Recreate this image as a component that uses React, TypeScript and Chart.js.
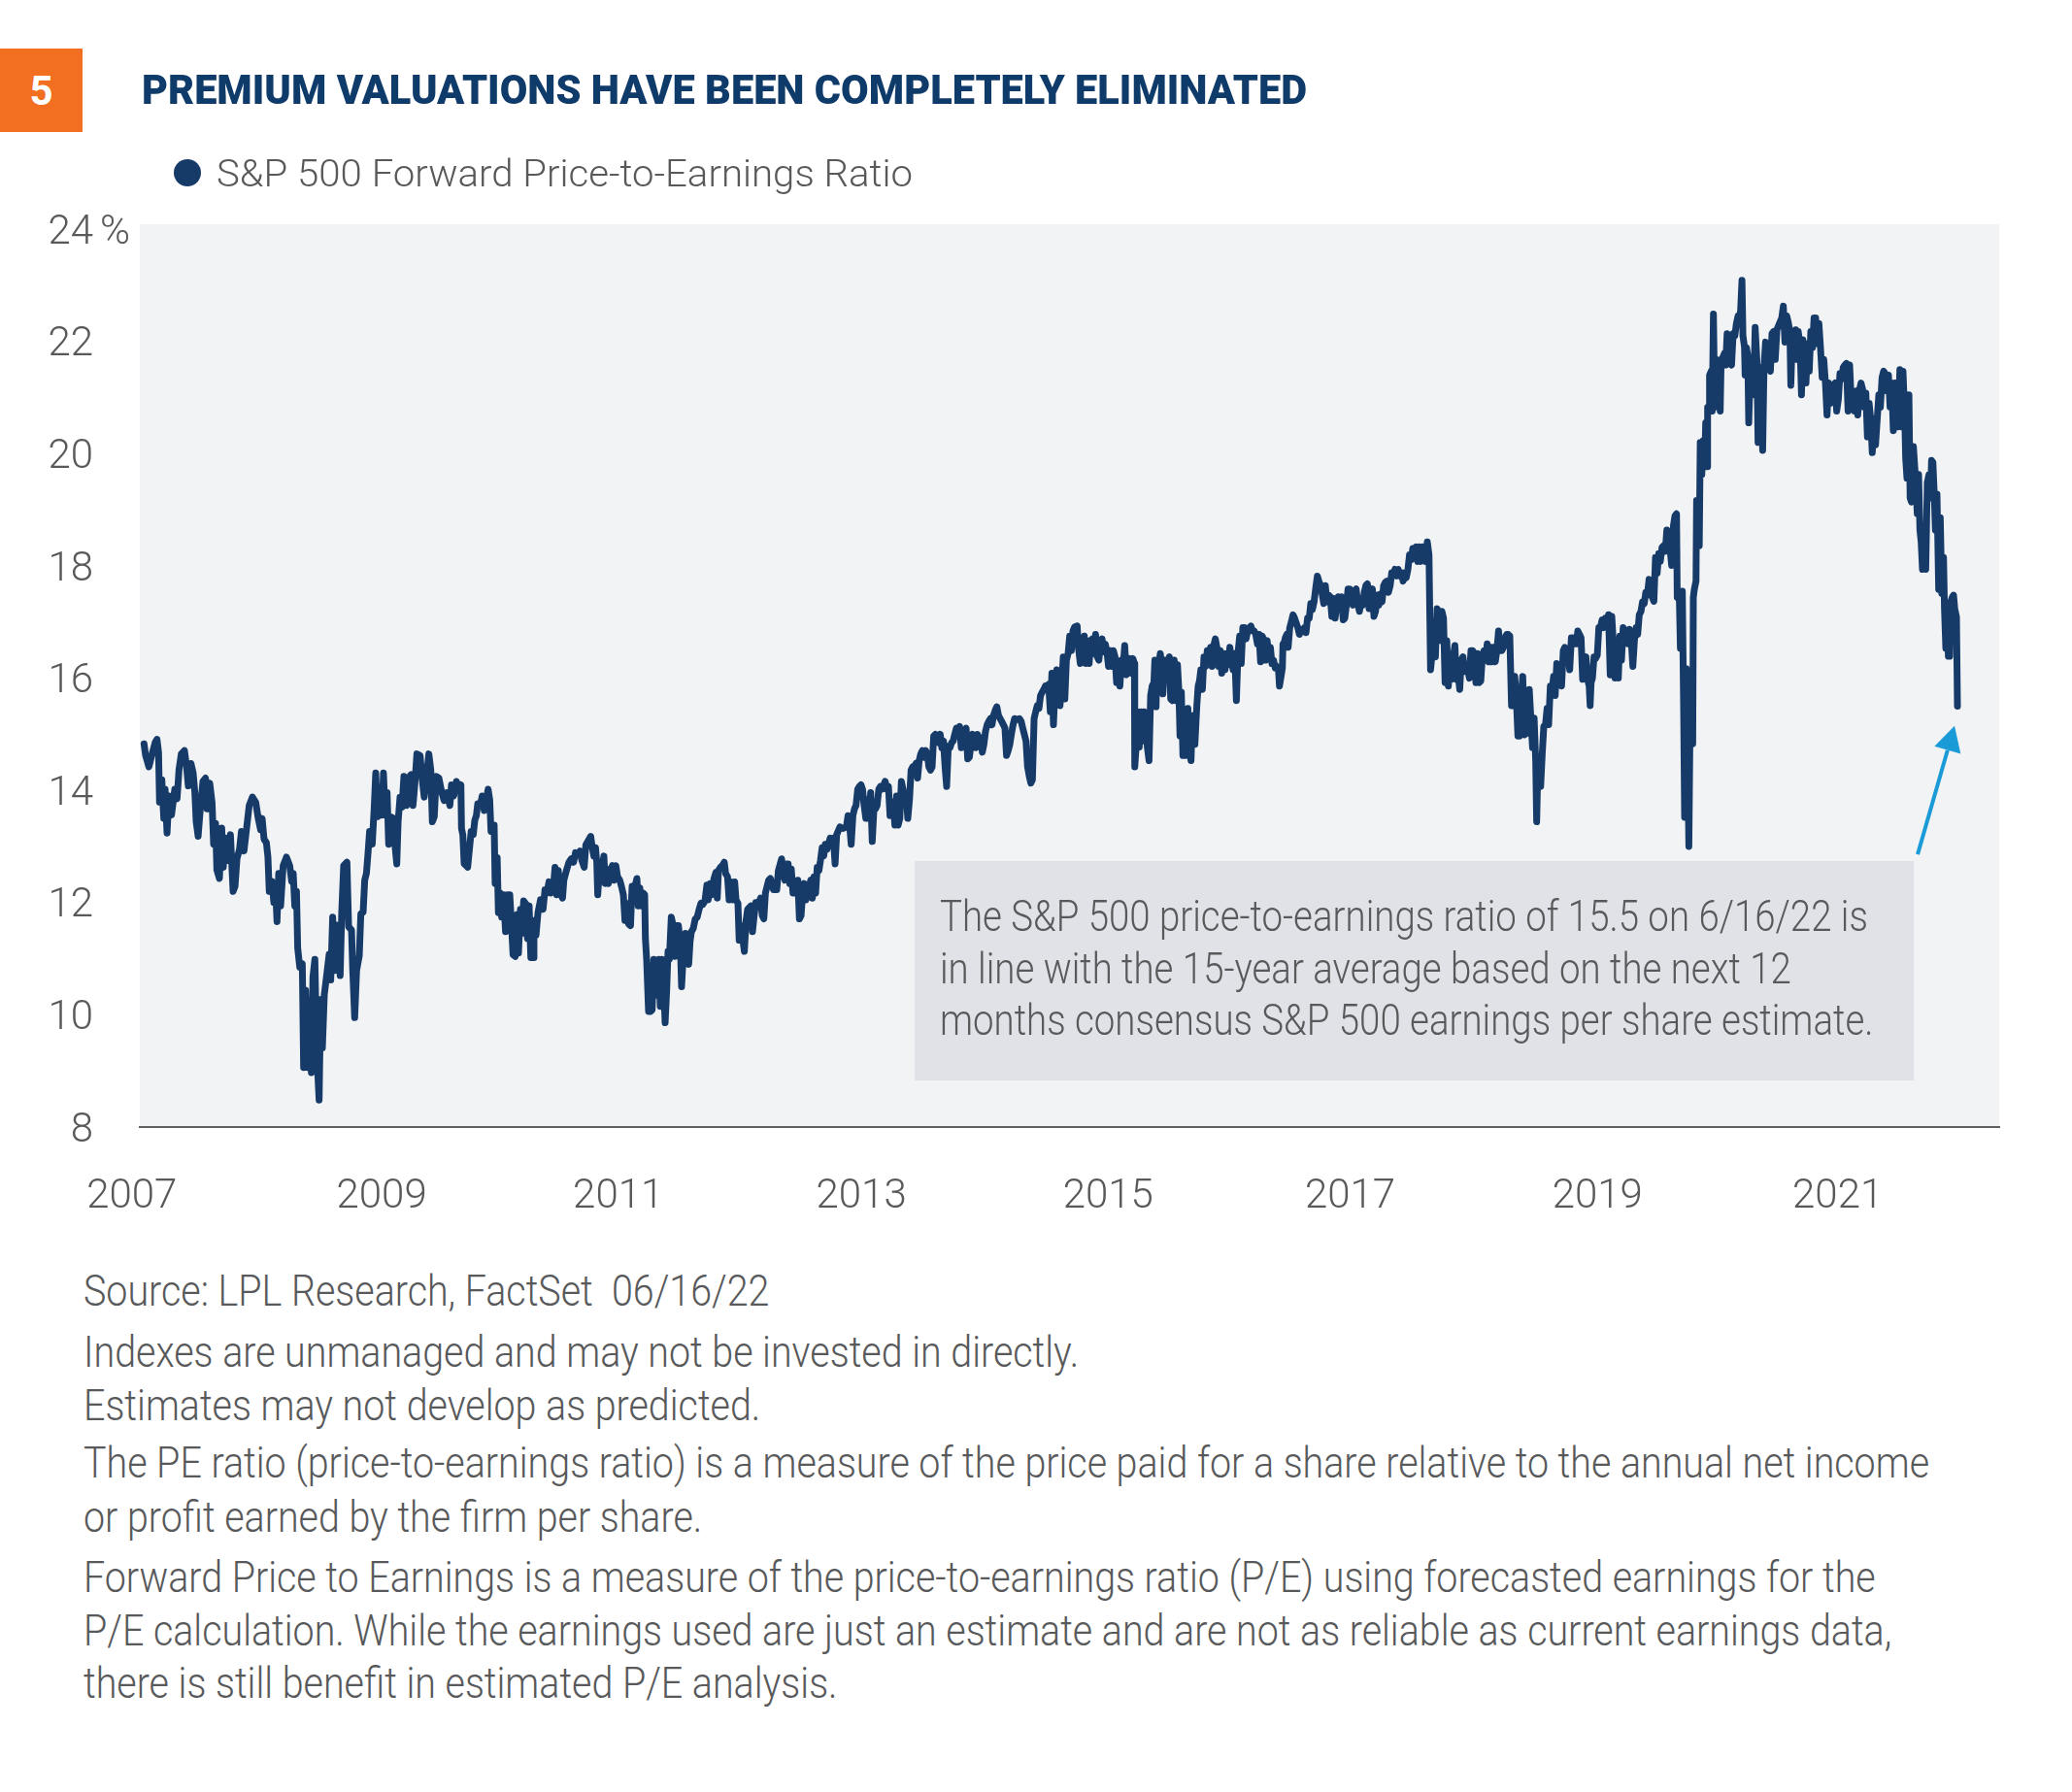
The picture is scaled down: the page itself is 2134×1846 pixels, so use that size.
import React, { useEffect, useLayoutEffect, useRef } from "react";
import { Chart, registerables } from "chart.js";

Chart.register(...registerables);

// ---------- text content ----------
const CHART_NUMBER = "5";
const TITLE = "PREMIUM VALUATIONS HAVE BEEN COMPLETELY ELIMINATED";
const SERIES_LABEL = "S&P 500 Forward Price-to-Earnings Ratio";
const ANNOTATION_LINES = [
  "The S&P 500 price-to-earnings ratio of 15.5 on 6/16/22 is",
  "in line with the 15-year average based on the next 12",
  "months consensus S&P 500 earnings per share estimate.",
];
const FOOTNOTE_LINES = [
  "Source: LPL Research, FactSet  06/16/22",
  "Indexes are unmanaged and may not be invested in directly.",
  "Estimates may not develop as predicted.",
  "The PE ratio (price-to-earnings ratio) is a measure of the price paid for a share relative to the annual net income",
  "or profit earned by the firm per share.",
  "Forward Price to Earnings is a measure of the price-to-earnings ratio (P/E) using forecasted earnings for the",
  "P/E calculation. While the earnings used are just an estimate and are not as reliable as current earnings data,",
  "there is still benefit in estimated P/E analysis.",
];

// ---------- axes ----------
const yTickValues = [8, 10, 12, 14, 16, 18, 20, 22, 24];
const xTickValues = [2007.33, 2009.395, 2011.35, 2013.36, 2015.4, 2017.4, 2019.445, 2021.43];
const xTickLabels = ["2007", "2009", "2011", "2013", "2015", "2017", "2019", "2021"];
const X_MIN = 2007.396;
const X_MAX = 2022.765;
const Y_MIN = 8;
const Y_MAX = 24.09;

// annotation anchored in data units
const annotationBox = { x0: 2013.8, x1: 2022.06, yTop: 12.74, yBottom: 8.83 };
const arrowFrom = { x: 2022.091, y: 12.86 };
const arrowTo = { x: 2022.396, y: 15.15 };

// ---------- series: [decimal year, forward P/E] ----------
const pe2007: [number, number][] = [[2007.431,14.83],[2007.444,14.62],[2007.471,14.42],[2007.498,14.65],[2007.524,14.86],[2007.538,14.91],[2007.551,14.68],[2007.559,13.79],[2007.578,14.19],[2007.594,13.5],[2007.605,14.02],[2007.621,13.24],[2007.637,13.9],[2007.658,13.56],[2007.685,14.02],[2007.704,13.85],[2007.72,14.37],[2007.739,14.65],[2007.765,14.71],[2007.781,14.45],[2007.797,14.08],[2007.819,14.48],[2007.837,14.31],[2007.851,13.96],[2007.862,13.44],[2007.878,13.18],[2007.894,13.62],[2007.918,14.16],[2007.939,14.22],[2007.952,13.67],[2007.974,14.13],[2007.993,13.79]];
const pe2008: [number, number][] = [[2008.006,13.04],[2008.022,13.41],[2008.033,12.58],[2008.054,12.43],[2008.073,13.33],[2008.086,12.63],[2008.102,13.15],[2008.124,12.75],[2008.145,13.21],[2008.167,12.2],[2008.183,12.29],[2008.199,12.78],[2008.22,12.95],[2008.236,13.27],[2008.257,12.92],[2008.279,13.33],[2008.3,13.73],[2008.327,13.88],[2008.354,13.79],[2008.375,13.5],[2008.394,13.3],[2008.407,13.5],[2008.423,13.13],[2008.442,13.07],[2008.455,12.81],[2008.466,12.2],[2008.488,12.38],[2008.504,12.0],[2008.517,12.29],[2008.53,11.66],[2008.544,12.52],[2008.56,11.94],[2008.581,12.66],[2008.608,12.81],[2008.635,12.66],[2008.651,12.38],[2008.664,12.52],[2008.677,11.94],[2008.691,12.2],[2008.701,11.19],[2008.718,10.85],[2008.739,10.91],[2008.75,9.06],[2008.766,10.44],[2008.782,9.06],[2008.798,10.27],[2008.814,8.97],[2008.827,10.67],[2008.843,10.99],[2008.857,9.41],[2008.878,8.48],[2008.891,10.27],[2008.905,9.41],[2008.921,10.36],[2008.942,10.73],[2008.961,11.08],[2008.974,10.62],[2008.99,11.74]];
const pe2009: [number, number][] = [[2009.006,10.79],[2009.022,11.6],[2009.039,11.19],[2009.052,10.7],[2009.065,11.83],[2009.081,12.66],[2009.108,12.72],[2009.122,11.57],[2009.146,11.51],[2009.156,10.79],[2009.172,9.95],[2009.188,10.79],[2009.21,11.05],[2009.223,11.8],[2009.242,11.83],[2009.255,12.4],[2009.269,12.52],[2009.282,12.87],[2009.295,13.27],[2009.317,13.04],[2009.333,13.67],[2009.346,14.31],[2009.36,13.53],[2009.376,13.96],[2009.397,13.56],[2009.41,14.31],[2009.424,13.56],[2009.44,13.96],[2009.453,13.04],[2009.469,13.53],[2009.493,13.5],[2009.507,12.98],[2009.52,12.69],[2009.531,13.44],[2009.547,13.88],[2009.563,13.7],[2009.579,14.25],[2009.6,13.73],[2009.616,14.22],[2009.638,14.28],[2009.654,13.73],[2009.67,14.13],[2009.686,14.65],[2009.713,14.62],[2009.729,14.22],[2009.747,13.88],[2009.763,14.19],[2009.785,14.65],[2009.801,14.37],[2009.814,13.44],[2009.83,13.53],[2009.846,14.25],[2009.868,14.22],[2009.889,13.99],[2009.911,13.82],[2009.932,13.96],[2009.959,13.73],[2009.972,14.1],[2009.991,13.9]];
const pe2010: [number, number][] = [[2010.013,14.16],[2010.034,14.04],[2010.05,14.1],[2010.055,13.32],[2010.066,13.21],[2010.077,12.69],[2010.093,12.66],[2010.106,12.63],[2010.119,12.92],[2010.135,13.27],[2010.152,13.21],[2010.165,13.47],[2010.178,13.55],[2010.189,13.76],[2010.21,13.73],[2010.226,13.9],[2010.243,13.64],[2010.259,13.84],[2010.275,14.02],[2010.288,13.84],[2010.299,13.27],[2010.312,13.38],[2010.325,13.38],[2010.333,12.34],[2010.35,12.8],[2010.36,11.82],[2010.374,12.17],[2010.387,11.74],[2010.403,12.14],[2010.419,11.48],[2010.435,12.14],[2010.454,12.14],[2010.467,11.65],[2010.481,11.07],[2010.499,11.04],[2010.515,11.79],[2010.526,11.1],[2010.542,11.88],[2010.553,11.45],[2010.569,12.03],[2010.588,11.97],[2010.601,11.36],[2010.614,11.94],[2010.628,11.02],[2010.649,11.02],[2010.654,11.68],[2010.671,11.42],[2010.687,11.82],[2010.708,12.05],[2010.729,11.88],[2010.745,12.23],[2010.761,12.17],[2010.778,12.37],[2010.794,12.17],[2010.815,12.29],[2010.828,12.63],[2010.842,12.14],[2010.855,12.57],[2010.874,12.17],[2010.89,12.08],[2010.901,12.4],[2010.922,12.57],[2010.943,12.72],[2010.962,12.78],[2010.981,12.72],[2010.997,12.89]];
const pe2011: [number, number][] = [[2011.018,12.86],[2011.034,12.92],[2011.05,12.75],[2011.069,12.63],[2011.083,13.03],[2011.099,13.09],[2011.123,13.18],[2011.136,12.98],[2011.149,12.83],[2011.163,12.98],[2011.173,12.72],[2011.181,12.14],[2011.197,12.63],[2011.216,12.63],[2011.232,12.83],[2011.243,12.34],[2011.259,12.6],[2011.27,12.34],[2011.286,12.52],[2011.302,12.66],[2011.318,12.4],[2011.331,12.66],[2011.345,12.46],[2011.363,12.4],[2011.377,12.29],[2011.393,12.14],[2011.406,11.68],[2011.42,11.99],[2011.436,11.62],[2011.452,11.59],[2011.465,12.29],[2011.478,12.17],[2011.489,12.29],[2011.505,12.43],[2011.516,11.94],[2011.529,12.26],[2011.543,11.94],[2011.556,12.17],[2011.569,12.14],[2011.575,11.36],[2011.585,11.0],[2011.601,10.06],[2011.617,10.06],[2011.631,10.09],[2011.644,10.99],[2011.66,10.5],[2011.674,10.35],[2011.687,10.99],[2011.698,10.15],[2011.711,10.99],[2011.725,10.55],[2011.738,9.86],[2011.751,10.44],[2011.762,11.13],[2011.773,10.99],[2011.789,11.74],[2011.805,11.59],[2011.818,11.04],[2011.831,11.59],[2011.848,11.59],[2011.864,11.25],[2011.874,10.5],[2011.89,11.13],[2011.906,11.45],[2011.922,11.02],[2011.933,10.9],[2011.944,11.3],[2011.955,11.48],[2011.971,11.54],[2011.987,11.71]];
const pe2012: [number, number][] = [[2012.003,11.74],[2012.019,11.88],[2012.035,11.99],[2012.051,11.97],[2012.067,12.03],[2012.083,12.31],[2012.094,12.05],[2012.11,12.34],[2012.126,12.14],[2012.142,12.43],[2012.158,12.54],[2012.169,12.08],[2012.179,12.57],[2012.195,12.63],[2012.211,12.66],[2012.227,12.72],[2012.238,12.52],[2012.254,12.46],[2012.267,12.05],[2012.281,12.37],[2012.297,12.05],[2012.313,12.37],[2012.324,12.05],[2012.34,11.99],[2012.35,11.33],[2012.366,11.59],[2012.383,11.3],[2012.393,11.13],[2012.407,11.68],[2012.42,11.88],[2012.447,11.94],[2012.46,11.48],[2012.474,11.77],[2012.487,12.0],[2012.501,11.94],[2012.527,12.08],[2012.541,11.77],[2012.554,11.71],[2012.567,12.17],[2012.594,12.4],[2012.608,12.43],[2012.634,12.23],[2012.661,12.23],[2012.674,12.57],[2012.701,12.78],[2012.715,12.52],[2012.728,12.4],[2012.741,12.69],[2012.755,12.69],[2012.768,12.34],[2012.781,12.6],[2012.795,12.17],[2012.822,12.17],[2012.835,12.4],[2012.848,11.71],[2012.862,11.77],[2012.875,12.17],[2012.888,12.34],[2012.902,12.05],[2012.915,12.23],[2012.929,12.29],[2012.942,12.4],[2012.955,12.08],[2012.969,12.46],[2012.982,12.17],[2012.995,12.63]];
const pe2013: [number, number][] = [[2013.009,12.57],[2013.022,12.75],[2013.036,12.98],[2013.049,12.83],[2013.062,13.04],[2013.076,12.95],[2013.089,13.04],[2013.102,13.15],[2013.116,13.09],[2013.129,13.15],[2013.143,12.69],[2013.156,13.21],[2013.183,13.35],[2013.209,13.32],[2013.236,13.35],[2013.25,13.55],[2013.263,13.38],[2013.276,13.04],[2013.29,13.55],[2013.303,13.67],[2013.316,13.73],[2013.33,14.02],[2013.343,14.07],[2013.357,14.1],[2013.37,14.02],[2013.383,13.73],[2013.397,13.5],[2013.41,13.84],[2013.423,13.5],[2013.437,13.96],[2013.45,13.09],[2013.464,13.67],[2013.477,13.67],[2013.49,13.73],[2013.504,14.02],[2013.517,14.07],[2013.53,14.02],[2013.557,14.16],[2013.571,14.02],[2013.584,14.07],[2013.597,13.55],[2013.624,13.79],[2013.637,13.38],[2013.651,13.9],[2013.664,13.38],[2013.678,13.5],[2013.691,14.16],[2013.704,14.02],[2013.718,13.79],[2013.731,13.9],[2013.744,13.5],[2013.758,13.84],[2013.771,14.36],[2013.785,14.42],[2013.798,14.39],[2013.811,14.48],[2013.825,14.22],[2013.838,14.53],[2013.851,14.65],[2013.865,14.71],[2013.878,14.59],[2013.892,14.71],[2013.905,14.65],[2013.918,14.42],[2013.932,14.36],[2013.945,14.42],[2013.958,14.97],[2013.972,15.0],[2013.985,14.91],[2013.999,14.85]];
const pe2014: [number, number][] = [[2014.012,15.0],[2014.025,14.76],[2014.039,14.88],[2014.052,14.42],[2014.065,14.07],[2014.079,14.79],[2014.092,14.76],[2014.106,14.85],[2014.119,14.88],[2014.132,15.0],[2014.146,15.11],[2014.159,15.05],[2014.172,15.14],[2014.186,14.76],[2014.199,15.0],[2014.213,15.02],[2014.226,15.11],[2014.239,14.56],[2014.253,14.59],[2014.266,14.82],[2014.279,15.0],[2014.293,14.94],[2014.306,14.76],[2014.32,15.0],[2014.333,14.82],[2014.346,14.94],[2014.36,14.68],[2014.373,14.82],[2014.386,15.05],[2014.4,15.17],[2014.413,15.23],[2014.427,15.28],[2014.44,15.17],[2014.453,15.34],[2014.467,15.43],[2014.48,15.49],[2014.493,15.34],[2014.507,15.28],[2014.52,15.23],[2014.534,15.17],[2014.547,15.11],[2014.56,14.62],[2014.574,14.71],[2014.587,14.82],[2014.6,15.0],[2014.614,15.17],[2014.627,15.28],[2014.641,15.26],[2014.667,15.28],[2014.681,15.23],[2014.694,15.11],[2014.707,15.0],[2014.721,14.88],[2014.734,14.42],[2014.748,14.25],[2014.761,14.13],[2014.774,14.19],[2014.788,15.28],[2014.801,15.4],[2014.814,15.51],[2014.828,15.46],[2014.841,15.69],[2014.855,15.75],[2014.868,15.8],[2014.881,15.86],[2014.895,15.8],[2014.908,15.89],[2014.922,15.4],[2014.935,16.09],[2014.948,15.17],[2014.962,15.92],[2014.975,16.15],[2014.989,16.03]];
const pe2015: [number, number][] = [[2015.002,15.51],[2015.015,15.86],[2015.029,16.38],[2015.042,15.63],[2015.055,16.32],[2015.069,16.44],[2015.082,16.75],[2015.096,16.49],[2015.109,16.84],[2015.122,16.91],[2015.144,16.93],[2015.154,16.55],[2015.17,16.26],[2015.189,16.55],[2015.203,16.75],[2015.216,16.26],[2015.229,16.67],[2015.243,16.26],[2015.256,16.67],[2015.269,16.7],[2015.283,16.44],[2015.296,16.78],[2015.31,16.38],[2015.323,16.32],[2015.336,16.58],[2015.35,16.7],[2015.363,16.47],[2015.376,16.61],[2015.39,16.47],[2015.403,16.21],[2015.417,16.49],[2015.43,16.21],[2015.443,16.49],[2015.457,16.38],[2015.47,15.92],[2015.483,16.21],[2015.497,15.86],[2015.51,16.32],[2015.524,16.21],[2015.537,16.58],[2015.55,16.06],[2015.564,16.09],[2015.577,16.35],[2015.59,16.09],[2015.604,16.35],[2015.617,16.26],[2015.62,14.42],[2015.631,14.77],[2015.644,15.4],[2015.657,14.77],[2015.671,15.4],[2015.684,14.88],[2015.697,15.4],[2015.724,14.77],[2015.738,14.53],[2015.751,15.69],[2015.764,15.86],[2015.778,15.92],[2015.786,16.32],[2015.796,15.49],[2015.804,16.32],[2015.818,16.21],[2015.831,16.44],[2015.844,16.21],[2015.852,15.72],[2015.866,16.32],[2015.877,16.26],[2015.893,16.29],[2015.906,16.38],[2015.917,15.63],[2015.93,15.6],[2015.946,16.32],[2015.957,15.6],[2015.973,16.24],[2015.984,15.8],[2015.994,14.97]];
const pe2016: [number, number][] = [[2016.005,15.75],[2016.018,14.62],[2016.037,14.62],[2016.045,14.99],[2016.059,15.46],[2016.069,14.77],[2016.085,14.53],[2016.096,15.26],[2016.107,15.34],[2016.117,14.82],[2016.133,15.51],[2016.144,15.86],[2016.155,15.95],[2016.166,16.15],[2016.179,15.8],[2016.192,16.38],[2016.206,16.21],[2016.219,16.49],[2016.232,16.44],[2016.246,16.55],[2016.259,16.21],[2016.273,16.58],[2016.286,16.7],[2016.299,16.55],[2016.313,16.21],[2016.326,16.49],[2016.339,16.09],[2016.353,16.44],[2016.366,16.15],[2016.38,16.44],[2016.393,16.24],[2016.406,16.55],[2016.42,16.32],[2016.433,16.15],[2016.446,16.44],[2016.46,15.6],[2016.473,16.44],[2016.487,16.75],[2016.5,16.26],[2016.513,16.9],[2016.527,16.9],[2016.54,16.7],[2016.553,16.84],[2016.567,16.9],[2016.58,16.93],[2016.594,16.84],[2016.607,16.84],[2016.62,16.78],[2016.634,16.61],[2016.647,16.78],[2016.66,16.29],[2016.674,16.75],[2016.687,16.67],[2016.701,16.32],[2016.714,16.67],[2016.727,16.44],[2016.741,16.55],[2016.754,16.26],[2016.767,16.32],[2016.781,16.18],[2016.794,16.21],[2016.808,16.15],[2016.816,15.86],[2016.829,16.03],[2016.84,16.18],[2016.845,16.61],[2016.856,16.64],[2016.866,16.73],[2016.877,16.78],[2016.888,16.55],[2016.901,16.9],[2016.915,17.01],[2016.928,17.13],[2016.941,17.07],[2016.955,16.98],[2016.968,16.9],[2016.981,16.78],[2016.995,16.87]];
const pe2017: [number, number][] = [[2017.008,16.84],[2017.022,16.9],[2017.035,16.81],[2017.048,17.07],[2017.062,17.07],[2017.075,17.33],[2017.088,17.22],[2017.102,17.36],[2017.115,17.59],[2017.129,17.82],[2017.142,17.73],[2017.155,17.65],[2017.169,17.5],[2017.182,17.33],[2017.195,17.65],[2017.209,17.36],[2017.222,17.48],[2017.236,17.45],[2017.249,17.1],[2017.262,17.42],[2017.276,17.07],[2017.289,17.3],[2017.302,17.45],[2017.316,17.39],[2017.329,17.45],[2017.343,17.04],[2017.356,17.07],[2017.369,17.3],[2017.383,17.59],[2017.396,17.59],[2017.41,17.42],[2017.423,17.3],[2017.436,17.56],[2017.45,17.59],[2017.463,17.33],[2017.477,17.19],[2017.49,17.36],[2017.503,17.3],[2017.517,17.53],[2017.53,17.65],[2017.543,17.68],[2017.557,17.24],[2017.57,17.53],[2017.584,17.59],[2017.597,17.1],[2017.61,17.19],[2017.624,17.48],[2017.637,17.3],[2017.65,17.5],[2017.664,17.36],[2017.677,17.65],[2017.691,17.71],[2017.704,17.73],[2017.717,17.53],[2017.731,17.65],[2017.744,17.88],[2017.757,17.85],[2017.771,17.94],[2017.784,17.82],[2017.798,17.94],[2017.811,17.82],[2017.824,17.88],[2017.838,17.73],[2017.851,17.88],[2017.864,17.79],[2017.878,17.94],[2017.891,18.2],[2017.905,18.11],[2017.918,18.31],[2017.931,18.22],[2017.945,18.34],[2017.958,18.08],[2017.971,18.34],[2017.985,18.08],[2017.998,18.34]];
const pe2018: [number, number][] = [[2018.012,18.22],[2018.025,18.08],[2018.038,18.43],[2018.052,18.2],[2018.065,16.15],[2018.078,16.44],[2018.092,17.01],[2018.105,16.38],[2018.119,17.24],[2018.132,17.16],[2018.145,16.67],[2018.159,17.19],[2018.172,17.07],[2018.185,15.92],[2018.199,16.67],[2018.212,15.86],[2018.226,16.38],[2018.239,15.98],[2018.252,16.38],[2018.266,16.58],[2018.279,15.98],[2018.292,16.09],[2018.306,15.8],[2018.319,16.32],[2018.333,16.38],[2018.346,16.12],[2018.359,16.21],[2018.373,16.15],[2018.386,16.0],[2018.399,16.49],[2018.413,16.49],[2018.426,16.44],[2018.44,15.92],[2018.453,16.44],[2018.466,15.92],[2018.48,15.95],[2018.493,16.38],[2018.506,16.49],[2018.52,16.32],[2018.533,16.61],[2018.547,16.29],[2018.56,16.55],[2018.573,16.29],[2018.587,16.55],[2018.6,16.29],[2018.613,16.49],[2018.627,16.84],[2018.64,16.49],[2018.654,16.49],[2018.667,16.55],[2018.68,16.72],[2018.694,16.78],[2018.707,16.78],[2018.72,16.75],[2018.734,15.51],[2018.747,15.51],[2018.761,16.03],[2018.774,15.63],[2018.787,14.97],[2018.801,14.97],[2018.814,15.63],[2018.827,16.03],[2018.841,14.99],[2018.854,15.34],[2018.867,15.02],[2018.881,15.8],[2018.894,15.29],[2018.908,14.76],[2018.921,15.29],[2018.934,14.53],[2018.942,13.44],[2018.953,14.53],[2018.964,14.59],[2018.975,14.07],[2018.988,14.65]];
const pe2019: [number, number][] = [[2019.001,15.14],[2019.015,15.17],[2019.028,15.46],[2019.041,15.17],[2019.055,15.86],[2019.068,15.75],[2019.082,16.03],[2019.095,15.69],[2019.108,16.26],[2019.122,16.21],[2019.135,16.09],[2019.148,15.86],[2019.162,16.49],[2019.175,16.55],[2019.189,16.44],[2019.202,16.49],[2019.215,16.15],[2019.229,16.72],[2019.242,16.72],[2019.255,16.61],[2019.269,16.61],[2019.282,16.84],[2019.296,16.78],[2019.309,16.72],[2019.322,15.98],[2019.336,16.09],[2019.349,16.38],[2019.362,15.98],[2019.376,15.86],[2019.384,15.51],[2019.392,15.92],[2019.403,16.0],[2019.416,16.38],[2019.429,16.35],[2019.443,16.41],[2019.456,16.9],[2019.469,16.9],[2019.483,17.04],[2019.496,16.9],[2019.51,17.07],[2019.523,16.93],[2019.536,17.13],[2019.55,16.06],[2019.563,17.1],[2019.576,16.61],[2019.59,16.0],[2019.603,16.49],[2019.617,16.0],[2019.63,16.75],[2019.643,16.32],[2019.657,16.9],[2019.67,16.84],[2019.683,16.81],[2019.697,16.61],[2019.71,16.87],[2019.724,16.67],[2019.737,16.21],[2019.75,16.67],[2019.764,16.9],[2019.777,16.78],[2019.79,17.13],[2019.804,17.19],[2019.817,17.36],[2019.831,17.33],[2019.844,17.53],[2019.857,17.48],[2019.871,17.76],[2019.884,17.73],[2019.898,17.44],[2019.911,17.37],[2019.924,18.15],[2019.938,17.87],[2019.951,18.22],[2019.964,18.08],[2019.978,18.33],[2019.991,18.36]];
const pe2020: [number, number][] = [[2020.005,18.26],[2020.018,18.64],[2020.031,18.36],[2020.045,18.29],[2020.058,18.01],[2020.072,18.71],[2020.085,18.89],[2020.098,18.93],[2020.104,17.44],[2020.12,17.55],[2020.13,16.53],[2020.146,17.55],[2020.157,15.4],[2020.165,13.52],[2020.179,16.17],[2020.192,14.41],[2020.2,13.0],[2020.211,15.47],[2020.221,14.83],[2020.232,14.83],[2020.237,17.44],[2020.245,17.58],[2020.259,17.73],[2020.264,19.17],[2020.275,18.36],[2020.286,18.36],[2020.294,20.2],[2020.307,19.63],[2020.318,20.23],[2020.331,19.77],[2020.339,20.55],[2020.35,19.77],[2020.355,20.83],[2020.366,20.8],[2020.371,21.4],[2020.384,21.47],[2020.393,20.76],[2020.403,22.49],[2020.414,20.83],[2020.425,21.68],[2020.435,20.9],[2020.446,21.65],[2020.459,20.76],[2020.467,21.68],[2020.481,21.72],[2020.494,21.79],[2020.505,21.58],[2020.516,22.14],[2020.526,21.75],[2020.54,21.68],[2020.553,21.58],[2020.566,22.14],[2020.58,22.1],[2020.593,22.32],[2020.607,22.46],[2020.62,22.42],[2020.628,22.56],[2020.639,23.09],[2020.647,22.1],[2020.66,21.9],[2020.665,21.4],[2020.676,21.89],[2020.687,21.75],[2020.695,20.55],[2020.708,21.54],[2020.719,21.68],[2020.73,21.05],[2020.74,21.54],[2020.748,22.25],[2020.762,21.68],[2020.772,20.2],[2020.788,21.47],[2020.799,21.54],[2020.81,20.06],[2020.821,21.54],[2020.834,21.99],[2020.847,21.93],[2020.861,21.54],[2020.874,21.47],[2020.887,22.14],[2020.901,22.18],[2020.914,21.68],[2020.928,22.21],[2020.941,22.28],[2020.954,22.35],[2020.968,22.42],[2020.981,22.63],[2020.994,21.99]];
const pe2021: [number, number][] = [[2021.008,22.46],[2021.021,22.35],[2021.035,22.18],[2021.043,21.22],[2021.056,22.18],[2021.067,21.96],[2021.083,22.21],[2021.093,21.68],[2021.104,22.18],[2021.12,21.89],[2021.131,21.05],[2021.142,22.03],[2021.155,21.89],[2021.168,21.26],[2021.182,21.96],[2021.195,21.47],[2021.208,22.18],[2021.222,21.89],[2021.235,22.42],[2021.248,22.42],[2021.262,21.96],[2021.275,22.32],[2021.288,21.89],[2021.302,21.36],[2021.315,21.68],[2021.329,21.26],[2021.342,20.69],[2021.355,21.26],[2021.369,20.9],[2021.382,21.22],[2021.395,21.22],[2021.409,21.26],[2021.422,20.76],[2021.436,20.97],[2021.449,21.43],[2021.462,21.33],[2021.476,21.54],[2021.489,21.58],[2021.502,21.61],[2021.516,20.76],[2021.529,21.58],[2021.543,20.9],[2021.556,21.05],[2021.569,20.76],[2021.583,21.12],[2021.596,20.69],[2021.609,21.12],[2021.623,21.26],[2021.636,21.15],[2021.65,20.83],[2021.663,21.08],[2021.676,20.3],[2021.69,20.9],[2021.703,20.62],[2021.716,20.02],[2021.73,20.62],[2021.743,20.16],[2021.757,20.62],[2021.77,21.05],[2021.783,20.83],[2021.797,21.36],[2021.81,21.47],[2021.823,21.43],[2021.837,21.12],[2021.85,21.4],[2021.863,20.83],[2021.877,21.26],[2021.89,20.41],[2021.904,21.26],[2021.917,20.9],[2021.93,20.48],[2021.944,21.5],[2021.957,20.48],[2021.97,21.47],[2021.984,20.69],[2021.992,19.92]];
const pe2022: [number, number][] = [[2022.003,19.56],[2022.019,21.05],[2022.029,19.21],[2022.04,19.14],[2022.056,20.13],[2022.067,19.77],[2022.078,19.35],[2022.088,18.93],[2022.099,19.63],[2022.11,18.64],[2022.12,18.43],[2022.131,17.94],[2022.144,18.36],[2022.158,17.94],[2022.171,19.49],[2022.185,19.63],[2022.198,19.21],[2022.206,19.88],[2022.217,19.85],[2022.227,19.35],[2022.238,18.64],[2022.251,19.28],[2022.265,17.58],[2022.278,18.86],[2022.291,17.51],[2022.305,18.15],[2022.313,17.23],[2022.324,16.53],[2022.334,17.09],[2022.345,16.39],[2022.356,16.39],[2022.366,17.37],[2022.377,17.44],[2022.388,17.48],[2022.398,17.23],[2022.412,17.09],[2022.42,15.5]];

const seriesByYear = [pe2007, pe2008, pe2009, pe2010, pe2011, pe2012, pe2013, pe2014, pe2015, pe2016, pe2017, pe2018, pe2019, pe2020, pe2021, pe2022];

// ---------- styles ----------
const FONT = "Roboto, 'Noto Sans', sans-serif";
const BASELINE_RATIO = 0.8418; // Roboto baseline offset for line-height = font-size
const LINE_COLOR = "#173b69";
const TEXT_GREY = "#58595b";
const TITLE_BLUE = "#0f3b6b";
const ORANGE = "#f26f21";
const PLOT_BG = "#f2f3f5";
const BOX_BG = "#e1e2e7";
const ARROW_BLUE = "#1a9bd7";
const TICK_FONT = { family: FONT, size: 42, weight: "300" as const };

const decorPlugin = {
  id: "decor",
  beforeDraw(chart: any) {
    const { ctx, chartArea: a } = chart;
    ctx.save();
    ctx.fillStyle = PLOT_BG;
    ctx.fillRect(a.left, a.top, a.right - a.left, a.bottom - a.top);
    ctx.restore();
  },
  beforeDatasetsDraw(chart: any) {
    const { ctx } = chart;
    const xs = chart.scales.x;
    const ys = chart.scales.y;
    const l = xs.getPixelForValue(annotationBox.x0);
    const r = xs.getPixelForValue(annotationBox.x1);
    const t = ys.getPixelForValue(annotationBox.yTop);
    const b = ys.getPixelForValue(annotationBox.yBottom);
    ctx.save();
    ctx.fillStyle = BOX_BG;
    ctx.fillRect(l, t, r - l, b - t);
    ctx.font = `300 44px ${FONT}`;
    ctx.fillStyle = TEXT_GREY;
    ctx.textAlign = "left";
    ctx.textBaseline = "alphabetic";
    const w0 = ctx.measureText(ANNOTATION_LINES[0]).width;
    const sx = w0 > 0 ? 956 / w0 : 1;
    const baselines = [72, 126, 179];
    ANNOTATION_LINES.forEach((line, i) => {
      ctx.save();
      ctx.translate(l + 26, t + baselines[i]);
      ctx.scale(sx, 1);
      ctx.fillText(line, 0, 0);
      ctx.restore();
    });
    ctx.restore();
  },
  afterDraw(chart: any) {
    const { ctx, chartArea: a } = chart;
    const xs = chart.scales.x;
    const ys = chart.scales.y;
    // percent sign after the top tick
    ctx.save();
    ctx.font = `${TICK_FONT.weight} ${TICK_FONT.size}px ${FONT}`;
    ctx.fillStyle = TEXT_GREY;
    ctx.textAlign = "left";
    ctx.textBaseline = "middle";
    ctx.fillText("%", a.left - 41, ys.getPixelForValue(yTickValues[yTickValues.length - 1]) + 4);
    ctx.restore();
    // arrow
    const x1 = xs.getPixelForValue(arrowFrom.x);
    const y1 = ys.getPixelForValue(arrowFrom.y);
    const x2 = xs.getPixelForValue(arrowTo.x);
    const y2 = ys.getPixelForValue(arrowTo.y);
    const ang = Math.atan2(y2 - y1, x2 - x1);
    const headLen = 26;
    const headHalf = 14;
    const bx = x2 - headLen * Math.cos(ang);
    const by = y2 - headLen * Math.sin(ang);
    ctx.save();
    ctx.strokeStyle = ARROW_BLUE;
    ctx.fillStyle = ARROW_BLUE;
    ctx.lineWidth = 4;
    ctx.beginPath();
    ctx.moveTo(x1, y1);
    ctx.lineTo(bx, by);
    ctx.stroke();
    ctx.beginPath();
    ctx.moveTo(x2, y2);
    ctx.lineTo(bx + headHalf * Math.sin(ang), by - headHalf * Math.cos(ang));
    ctx.lineTo(bx - headHalf * Math.sin(ang), by + headHalf * Math.cos(ang));
    ctx.closePath();
    ctx.fill();
    ctx.restore();
  },
};

function PEChart() {
  const canvasRef = useRef<HTMLCanvasElement>(null);
  useEffect(() => {
    if (!canvasRef.current) return;
    const points = seriesByYear.flat().map(([x, y]) => ({ x, y }));
    const chart = new Chart(canvasRef.current, {
      type: "line",
      data: {
        datasets: [
          {
            label: SERIES_LABEL,
            data: points,
            borderColor: LINE_COLOR,
            backgroundColor: LINE_COLOR,
            borderWidth: 7,
            pointRadius: 0,
            tension: 0,
            fill: false,
            borderJoinStyle: "round",
            borderCapStyle: "round",
          },
        ],
      },
      options: {
        animation: false,
        responsive: true,
        maintainAspectRatio: false,
        events: [],
        layout: { padding: { top: 231, right: 75, left: 0, bottom: 0 } },
        plugins: { legend: { display: false }, tooltip: { enabled: false } },
        scales: {
          x: {
            type: "linear",
            min: X_MIN,
            max: X_MAX,
            grid: { display: false, drawTicks: false },
            border: { display: true, color: "#5f6062", width: 2 },
            afterBuildTicks: (s: any) => {
              s.ticks = xTickValues.map((v) => ({ value: v }));
            },
            afterFit: (s: any) => {
              s.height = 139;
            },
            ticks: {
              autoSkip: false,
              maxRotation: 0,
              minRotation: 0,
              padding: 47,
              color: TEXT_GREY,
              font: TICK_FONT,
              callback: (_v: any, i: number) => xTickLabels[i],
            },
          },
          y: {
            type: "linear",
            min: Y_MIN,
            max: Y_MAX,
            grid: { display: false, drawTicks: false },
            border: { display: false },
            afterBuildTicks: (s: any) => {
              s.ticks = yTickValues.map((v) => ({ value: v }));
            },
            afterFit: (s: any) => {
              s.width = 144;
            },
            ticks: {
              padding: 48,
              labelOffset: 4,
              color: TEXT_GREY,
              font: TICK_FONT,
              callback: (v: any) => String(v),
            },
          },
        },
      },
      plugins: [decorPlugin],
    });
    return () => chart.destroy();
  }, []);
  return (
    <div style={{ position: "absolute", left: 0, top: 0, width: 2134, height: 1300 }}>
      <canvas ref={canvasRef} />
    </div>
  );
}

function FitLine(props: {
  text: string;
  left: number;
  baseline: number;
  size: number;
  weight: number;
  color: string;
  targetWidth: number;
}) {
  const ref = useRef<HTMLDivElement>(null);
  useLayoutEffect(() => {
    const el = ref.current;
    if (!el) return;
    const fit = () => {
      el.style.transform = "none";
      const w = el.getBoundingClientRect().width;
      if (w > 0) el.style.transform = `scaleX(${props.targetWidth / w})`;
    };
    fit();
    (document as any).fonts?.ready?.then(fit);
  }, [props.text, props.targetWidth]);
  return (
    <div
      ref={ref}
      style={{
        position: "absolute",
        left: props.left,
        top: props.baseline - BASELINE_RATIO * props.size,
        fontFamily: FONT,
        fontSize: props.size,
        fontWeight: props.weight,
        lineHeight: `${props.size}px`,
        color: props.color,
        whiteSpace: "pre",
        transformOrigin: "0 0",
      }}
    >
      {props.text}
    </div>
  );
}

const FOOTNOTE_BASELINES = [1345, 1408, 1463, 1522, 1578, 1640, 1695, 1749];
const FOOTNOTE_REF_INDEX = 3;
const FOOTNOTE_REF_WIDTH = 1901;

function Footnotes() {
  const refs = useRef<(HTMLDivElement | null)[]>([]);
  useLayoutEffect(() => {
    const fit = () => {
      const els = refs.current.filter(Boolean) as HTMLDivElement[];
      els.forEach((e) => (e.style.transform = "none"));
      const r = refs.current[FOOTNOTE_REF_INDEX];
      if (!r) return;
      const w = r.getBoundingClientRect().width;
      if (w <= 0) return;
      const s = FOOTNOTE_REF_WIDTH / w;
      els.forEach((e) => (e.style.transform = `scaleX(${s})`));
    };
    fit();
    (document as any).fonts?.ready?.then(fit);
  }, []);
  const size = 44;
  return (
    <>
      {FOOTNOTE_LINES.map((line, i) => (
        <div
          key={i}
          ref={(el) => {
            refs.current[i] = el;
          }}
          style={{
            position: "absolute",
            left: 86,
            top: FOOTNOTE_BASELINES[i] - BASELINE_RATIO * size,
            fontFamily: FONT,
            fontSize: size,
            fontWeight: 300,
            lineHeight: `${size}px`,
            color: TEXT_GREY,
            whiteSpace: "pre",
            transformOrigin: "0 0",
          }}
        >
          {line}
        </div>
      ))}
    </>
  );
}

export default function App() {
  return (
    <div
      style={{
        position: "absolute",
        left: 0,
        top: 0,
        width: 2134,
        height: 1846,
        background: "#ffffff",
        overflow: "hidden",
      }}
    >
      <PEChart />
      <div
        style={{
          position: "absolute",
          left: 0,
          top: 50,
          width: 85,
          height: 86,
          background: ORANGE,
        }}
      />
      <div
        style={{
          position: "absolute",
          left: 0,
          width: 85,
          top: 108 - BASELINE_RATIO * 42,
          fontFamily: FONT,
          fontSize: 42,
          lineHeight: "42px",
          fontWeight: 700,
          color: "#ffffff",
          textAlign: "center",
        }}
      >
        {CHART_NUMBER}
      </div>
      <FitLine text={TITLE} left={146} baseline={107} size={42} weight={900} color={TITLE_BLUE} targetWidth={1200} />
      <div
        style={{
          position: "absolute",
          left: 179,
          top: 164,
          width: 28,
          height: 28,
          borderRadius: "50%",
          background: LINE_COLOR,
        }}
      />
      <FitLine text={SERIES_LABEL} left={223} baseline={193} size={39} weight={300} color={TEXT_GREY} targetWidth={717} />
      <Footnotes />
    </div>
  );
}
